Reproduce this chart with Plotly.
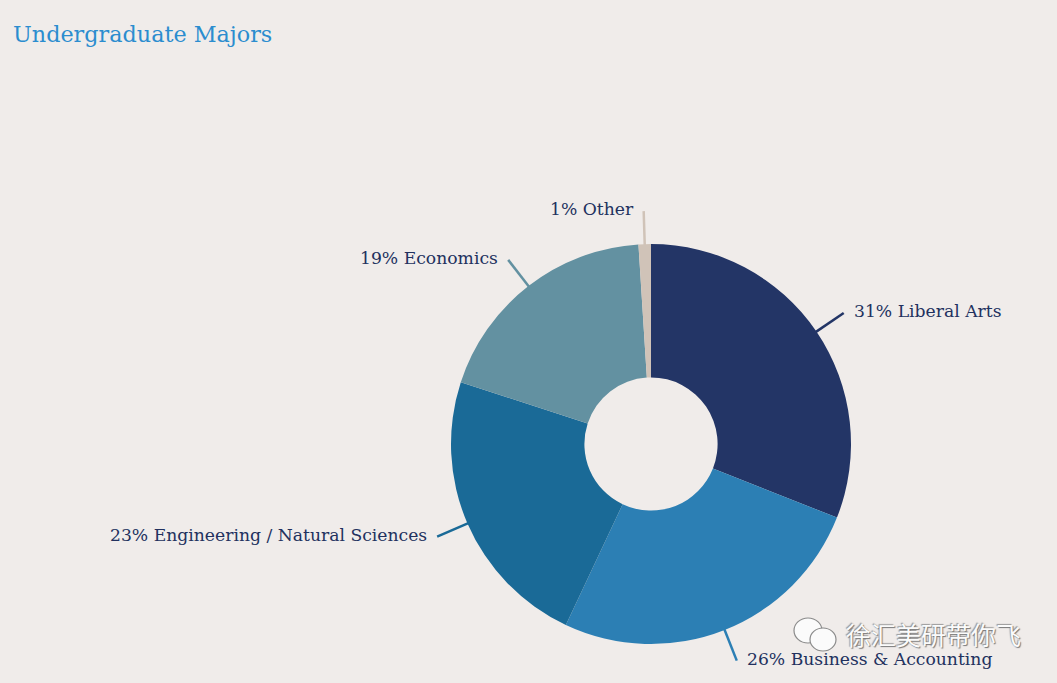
import numpy as np
import plotly.graph_objects as go

# data
majors = ["Liberal Arts", "Business & Accounting", "Engineering / Natural Sciences",
          "Economics", "Other"]
shares = [31, 26, 23, 19, 1]
slice_colors = ["#233566", "#2c7fb4", "#1a6a97", "#6391a1", "#d0c3b8"]

BG = "#f0ecea"
INK = "#22315e"
W, H = 1057, 683
CX, CY, R = 651, 444, 200       # pie centre / radius in px
LEAD_IN, LEAD_OUT, GAP = 199, 233, 8

fig = go.Figure()
fig.add_trace(go.Pie(
    labels=majors, values=shares, sort=False, direction="clockwise", rotation=0,
    hole=0.333, textinfo="none", showlegend=False,
    marker=dict(colors=slice_colors, line=dict(width=0)),
    domain=dict(x=[(CX - R) / W, (CX + R) / W], y=[(H - CY - R) / H, (H - CY + R) / H]),
    hovertemplate="%{label}: %{value}%<extra></extra>",
))

# leader lines + outside labels, placed from each slice's mid angle
cum = np.cumsum(shares)
total = float(sum(shares))
annotations = []
for name, s, c, col in zip(majors, shares, cum, slice_colors):
    a = (c - s / 2) / total * 2 * np.pi
    sx, cy = np.sin(a), np.cos(a)
    x0, y0 = CX + LEAD_IN * sx, CY - LEAD_IN * cy
    x1, y1 = CX + LEAD_OUT * sx, CY - LEAD_OUT * cy
    fig.add_trace(go.Scatter(
        x=[x0, x1], y=[y0, y1], mode="lines", xaxis="x", yaxis="y",
        line=dict(color=col, width=2.5), hoverinfo="skip", showlegend=False,
    ))
    right = sx > 0
    annotations.append(dict(
        x=x1 + (GAP if right else -GAP), y=y1 - 2, xref="x", yref="y",
        text=f"{s}% {name}", showarrow=False,
        xanchor="left" if right else "right", yanchor="middle",
        font=dict(size=17.2, color=INK, family="DejaVu Serif"),
    ))

annotations.append(dict(
    x=11, y=34, xref="x", yref="y", text="Undergraduate Majors", showarrow=False,
    xanchor="left", yanchor="middle",
    font=dict(size=22.3, color="#2b8dcf", family="DejaVu Serif"),
))
# watermark
annotations.append(dict(
    x=1023, y=634, xref="x", yref="y", text="徐汇美研带你飞", showarrow=False,
    xanchor="right", yanchor="middle",
    font=dict(size=25, color="#fbfbfb", family="Noto Sans CJK SC",
              shadow="1px 1px 1px #777, -1px -1px 1px #999"),
))

# little chat-bubble glyph beside the watermark
shapes = [
    dict(type="circle", xref="x", yref="y", x0=794, x1=822, y0=618, y1=643,
         fillcolor="#fbfbfb", line=dict(color="#8a8a8a", width=1.2)),
    dict(type="circle", xref="x", yref="y", x0=810, x1=836, y0=628, y1=651,
         fillcolor="#fbfbfb", line=dict(color="#8a8a8a", width=1.2)),
]

fig.update_layout(
    width=W, height=H,
    margin=dict(l=0, r=0, t=0, b=0),
    paper_bgcolor=BG, plot_bgcolor="rgba(0,0,0,0)",
    xaxis=dict(range=[0, W], visible=False, domain=[0, 1], fixedrange=True),
    yaxis=dict(range=[H, 0], visible=False, domain=[0, 1], fixedrange=True),
    annotations=annotations, shapes=shapes,
    showlegend=False,
)

fig.write_html("out.html", config={"displayModeBar": False},
               post_script="document.body.style.margin='0';")
